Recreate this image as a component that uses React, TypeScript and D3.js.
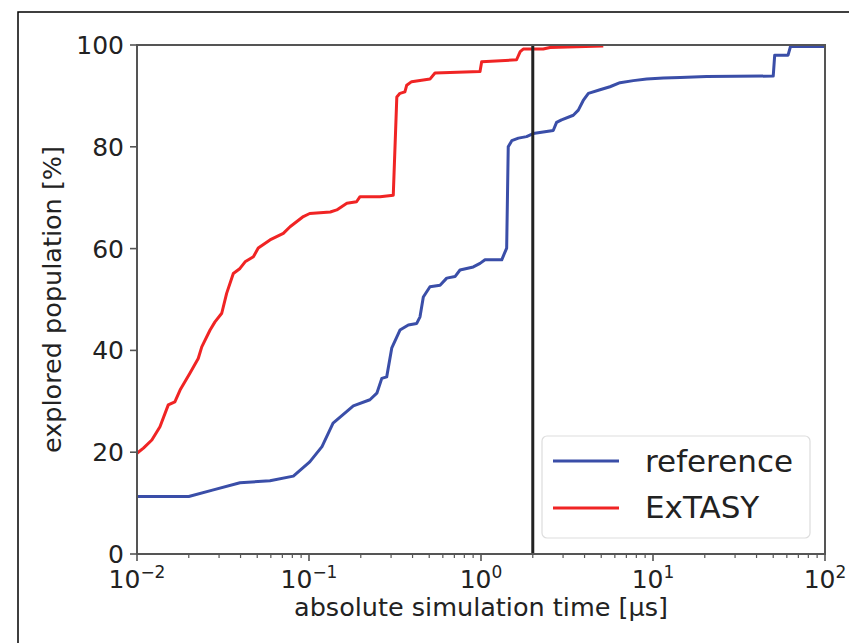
import React from "react";
import * as d3 from "d3";

// explored population curves: [time in µs, percent]
const referenceCurve: [number, number][] = [
  [0.01, 11.3], [0.02, 11.3], [0.0278, 12.6], [0.0397, 14], [0.0593, 14.4], [0.0811, 15.3],
  [0.101, 18.1], [0.119, 21.1], [0.138, 25.7], [0.181, 29.1], [0.226, 30.3], [0.248, 31.6],
  [0.265, 34.5], [0.283, 34.8], [0.303, 40.5], [0.338, 44], [0.378, 45], [0.423, 45.3],
  [0.442, 46.6], [0.462, 50.5], [0.505, 52.5], [0.578, 52.8], [0.632, 54.2], [0.706, 54.5],
  [0.755, 55.8], [0.902, 56.4], [0.987, 57.1], [1.055, 57.8], [1.32, 57.8], [1.41, 60.1],
  [1.44, 80], [1.51, 81.2], [1.65, 81.7], [1.84, 82], [2.01, 82.6], [2.63, 83.2], [2.75, 84.8],
  [2.94, 85.3], [3.44, 86.2], [3.68, 87.2], [3.93, 89.1], [4.21, 90.5], [4.92, 91.2],
  [5.62, 91.8], [6.43, 92.6], [7.68, 93], [9.19, 93.3], [11.5, 93.5], [14.4, 93.6],
  [20.5, 93.8], [50, 93.9], [51, 98], [61, 98], [63, 99.7], [100, 99.7],
];

const extasyCurve: [number, number][] = [
  [0.01, 19.8], [0.0109, 20.8], [0.0122, 22.4], [0.0136, 25], [0.0152, 29.3], [0.0166, 29.9],
  [0.0178, 32.2], [0.0203, 35.5], [0.0227, 38.4], [0.0238, 40.7], [0.0266, 44], [0.0284, 45.6],
  [0.0311, 47.3], [0.0332, 51.2], [0.0363, 55.1], [0.0397, 56.1], [0.0425, 57.4], [0.0475, 58.4],
  [0.0507, 60.1], [0.0593, 61.7], [0.0709, 63], [0.0776, 64.3], [0.0927, 66.3], [0.101, 66.9],
  [0.133, 67.2], [0.145, 67.6], [0.166, 68.9], [0.189, 69.2], [0.198, 70.2], [0.259, 70.2],
  [0.309, 70.5], [0.324, 89.8], [0.338, 90.5], [0.361, 90.8], [0.37, 92.1], [0.395, 92.8],
  [0.505, 93.3], [0.54, 94.5], [0.987, 94.8], [1.009, 96.7], [1.61, 97.1], [1.69, 98.7],
  [1.76, 99.2], [2.3, 99.2], [2.52, 99.5], [5.14, 99.8],
];

const cutoffTime = 2.0;
const yTicks = [0, 20, 40, 60, 80, 100];
const xDecades = [-2, -1, 0, 1, 2];
const seriesNames = ["reference", "ExTASY"];
const seriesColors = ["#3a4ea8", "#f02424"];

const W = 849, H = 643;
const left = 137, right = 825, top = 45, bottom = 554;
const font = "'DejaVu Sans', sans-serif";

const App = () => {
  const x = d3.scaleLog().domain([0.01, 100]).range([left, right]);
  const y = d3.scaleLinear().domain([0, 100]).range([bottom, top]);
  const line = d3.line<[number, number]>().x(d => x(d[0])).y(d => y(d[1]));

  const minor: number[] = [];
  xDecades.slice(0, -1).forEach(e => {
    for (let k = 2; k <= 9; k++) minor.push(k * Math.pow(10, e));
  });

  const curves = [referenceCurve, extasyCurve];

  return (
    <svg width={W} height={H} style={{ position: "absolute", left: 0, top: 0, background: "#fff" }}
      fontFamily={font}>
      <rect x={18} y={12} width={900} height={700} fill="#fff" stroke="#000" strokeWidth={1.5} />

      {curves.map((c, i) => (
        <path key={seriesNames[i]} d={line(c) || ""} fill="none" stroke={seriesColors[i]}
          strokeWidth={3} strokeLinejoin="round" />
      ))}

      <line x1={x(cutoffTime)} x2={x(cutoffTime)} y1={y(100)} y2={y(0)} stroke="#222" strokeWidth={3} />

      {/* spines */}
      <rect x={left} y={top} width={right - left} height={bottom - top} fill="none" stroke="#555" strokeWidth={2} />

      {/* y axis */}
      {yTicks.map(t => (
        <g key={`y${t}`}>
          <line x1={left - 7} x2={left} y1={y(t)} y2={y(t)} stroke="#555" strokeWidth={1.6} />
          <text x={left - 13} y={y(t) + 9} textAnchor="end" fontSize={25} fill="#222">{t}</text>
        </g>
      ))}

      {/* x axis */}
      {minor.map(m => (
        <line key={`m${m}`} x1={x(m)} x2={x(m)} y1={bottom} y2={bottom + 4} stroke="#555" strokeWidth={1.2} />
      ))}
      {xDecades.map(e => (
        <g key={`x${e}`}>
          <line x1={x(Math.pow(10, e))} x2={x(Math.pow(10, e))} y1={bottom} y2={bottom + 7} stroke="#555" strokeWidth={1.6} />
          <text x={x(Math.pow(10, e))} y={588} textAnchor="middle" fontSize={25} fill="#222">
            10<tspan dy={-10} fontSize={17}>{e < 0 ? `\u2212${-e}` : `${e}`}</tspan>
          </text>
        </g>
      ))}

      <text x={(left + right) / 2} y={616} textAnchor="middle" fontSize={25.5} fill="#222">
        absolute simulation time [µs]
      </text>
      <text transform={`translate(61,${(top + bottom) / 2}) rotate(-90)`} textAnchor="middle" fontSize={25.5} fill="#222">
        explored population [%]
      </text>

      {/* legend */}
      <rect x={542} y={436} width={268} height={102} rx={5} fill="#fff" fillOpacity={0.85} stroke="#ddd" strokeWidth={1.2} />
      {seriesNames.map((n, i) => (
        <g key={`l${n}`}>
          <line x1={553} x2={619} y1={461 + i * 47} y2={461 + i * 47} stroke={seriesColors[i]} strokeWidth={3} />
          <text x={645} y={472 + i * 46} fontSize={31} fill="#222">{n}</text>
        </g>
      ))}
    </svg>
  );
};

export default App;
